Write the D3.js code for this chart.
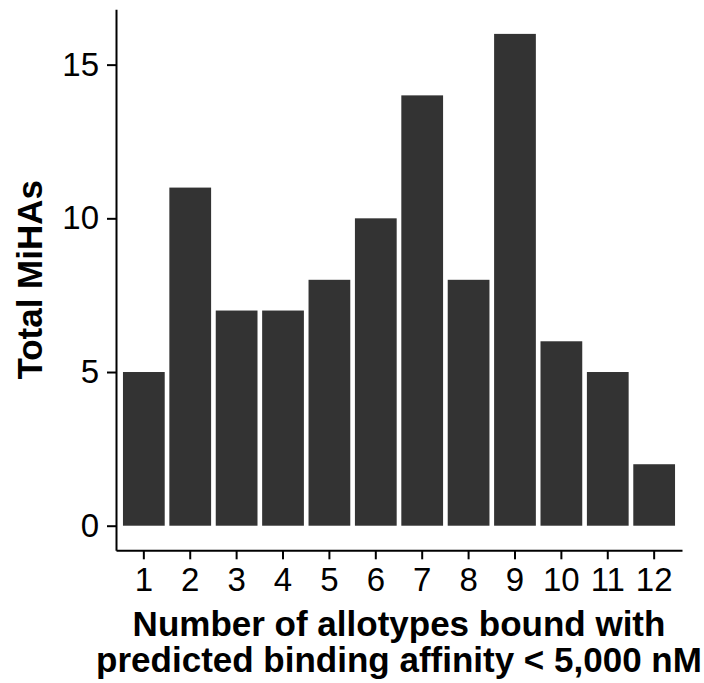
<!DOCTYPE html>
<html>
<head>
<meta charset="utf-8">
<script src="https://cdn.jsdelivr.net/npm/d3@7"></script>
<style>
  body { margin: 0; background: #fff; }
  svg text { font-family: "Liberation Sans", Arial, Helvetica, sans-serif; }
</style>
</head>
<body>
<script>
// number of allotypes bound and the MiHA count for each
var allotypes = [1, 2, 3, 4, 5, 6, 7, 8, 9, 10, 11, 12];
var totals = [5, 11, 7, 7, 8, 10, 14, 8, 16, 6, 5, 2];
var yTicks = [0, 5, 10, 15];

var width = 704,
    height = 683;

var svg = d3.select("body")
    .append("svg")
    .attr("width", width)
    .attr("height", height);

//plot area edges
var plotLeft = 116, plotRight = 682, plotTop = 9.3, plotBottom = 550.3;

// band scale padded like ggplot's discrete axis
var x = d3.scaleBand()
    .domain(allotypes)
    .range([plotLeft, plotRight])
    .paddingInner(0.1)
    .paddingOuter(0.15);

var y = d3.scaleLinear()
    .domain([-0.8, 16.8])
    .range([plotBottom, plotTop]);

// bars
svg.selectAll(".bar")
    .data(allotypes)
    .enter()
    .append("rect")
    .attr("class", "bar")
    .attr("x", function(d){ return x(d); })
    .attr("width", x.bandwidth())
    .attr("y", function(d, i){ return y(totals[i]); })
    .attr("height", function(d, i){ return y(0) - y(totals[i]); })
    .attr("fill", "#333333");

// axes
var yAxis = svg.append("g")
    .attr("transform", "translate(" + plotLeft + ",0)")
    .call(d3.axisLeft(y).tickValues(yTicks).tickSize(9).tickSizeOuter(0).tickPadding(8));

var xAxis = svg.append("g")
    .attr("transform", "translate(0," + plotBottom + ")")
    .call(d3.axisBottom(x).tickSize(9).tickSizeOuter(0).tickPadding(8));

[xAxis, yAxis].forEach(function(g){
    g.selectAll("path, line").attr("stroke", "#000").attr("stroke-width", 2);
    g.selectAll("text").attr("fill", "#000").style("font-size", "33px");
});

// axis titles
svg.append("text")
    .attr("transform", "translate(42," + ((plotTop + plotBottom) / 2) + ") rotate(-90)")
    .attr("text-anchor", "middle")
    .style("font-size", "35px")
    .style("font-weight", "bold")
    .text("Total MiHAs");

var xTitle = svg.append("text")
    .attr("text-anchor", "middle")
    .style("font-size", "35px")
    .style("font-weight", "bold");

xTitle.append("tspan")
    .attr("x", (plotLeft + plotRight) / 2)
    .attr("y", 636)
    .text("Number of allotypes bound with");

xTitle.append("tspan")
    .attr("x", (plotLeft + plotRight) / 2)
    .attr("y", 672)
    .text("predicted binding affinity < 5,000 nM");
</script>
</body>
</html>
